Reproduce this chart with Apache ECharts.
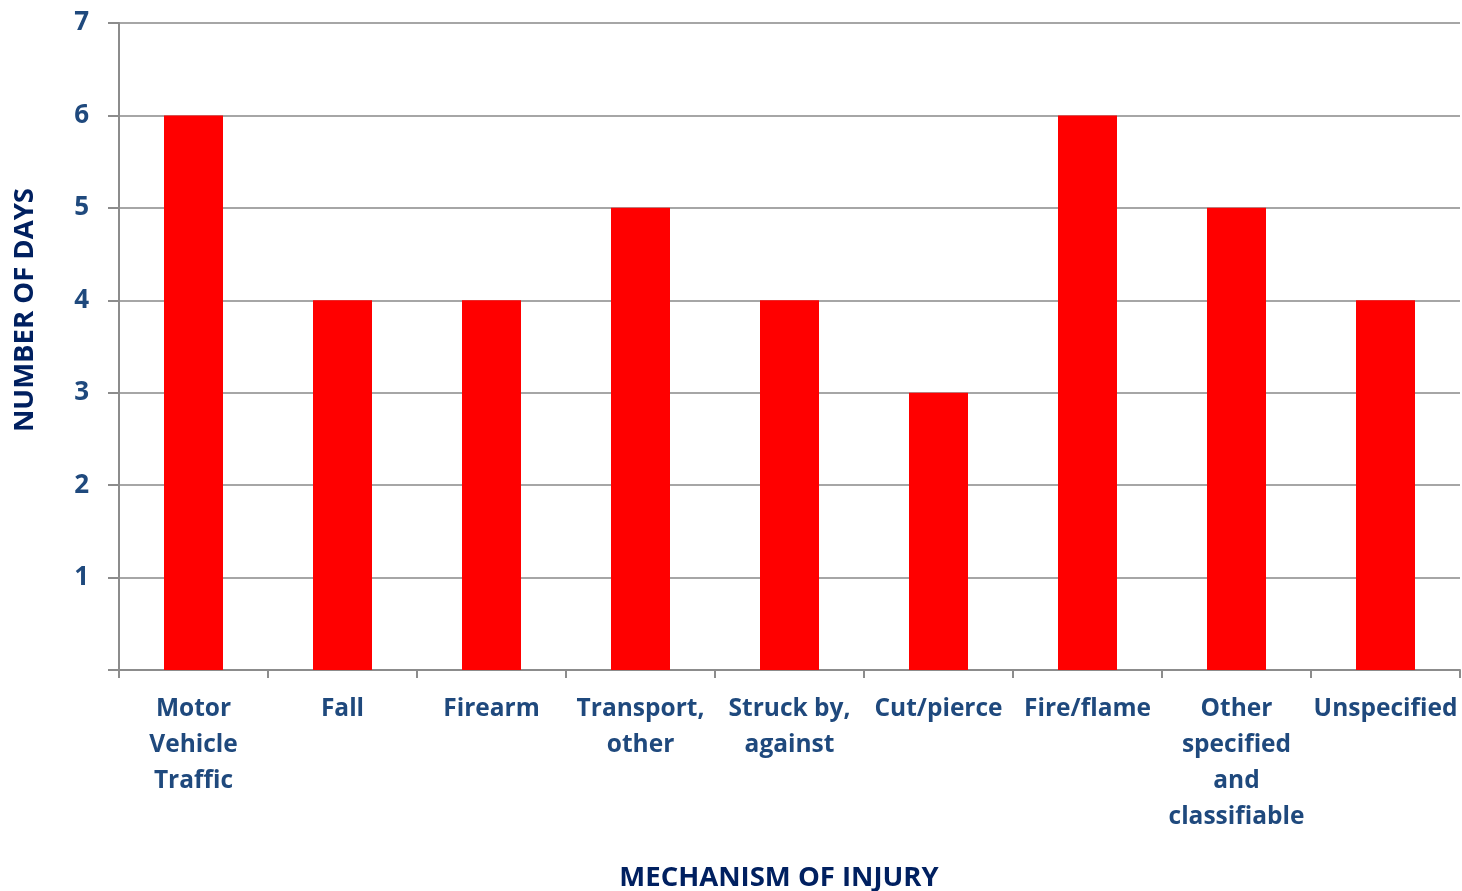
<!DOCTYPE html>
<html>
<head>
<meta charset="utf-8">
<script src="https://cdn.jsdelivr.net/npm/echarts@6/dist/echarts.min.js"></script>
<style>
  html, body { margin: 0; padding: 0; background: #ffffff; }
  #chart { width: 1462px; height: 891px; }
</style>
</head>
<body>
<div id="chart"></div>
<script>
// Injury mechanisms and number of days for each
const categories = [
  'Motor\nVehicle\nTraffic',
  'Fall',
  'Firearm',
  'Transport,\nother',
  'Struck by,\nagainst',
  'Cut/pierce',
  'Fire/flame',
  'Other\nspecified\nand\nclassifiable',
  'Unspecified'
];
const days = [6, 4, 4, 5, 4, 3, 6, 5, 4];
const yTicks = [0, 1, 2, 3, 4, 5, 6, 7];
const yTitle = 'NUMBER OF DAYS';
const xTitle = 'MECHANISM OF INJURY';

const labelFont = '"Open Sans", sans-serif';
const labelColor = '#1F497D';
const titleColor = '#002060';
const lineColor = '#8C8C8C';

const chart = echarts.init(document.getElementById('chart'));
chart.setOption({
  animation: false,
  grid: { left: 119, right: 2, top: 23, bottom: 221, containLabel: false },
  xAxis: {
    type: 'category',
    data: categories,
    boundaryGap: true,
    axisLine: { lineStyle: { color: lineColor, width: 2 } },
    axisTick: { show: true, length: 8, lineStyle: { color: lineColor, width: 2 } },
    axisLabel: {
      interval: 0,
      margin: 21,
      fontFamily: labelFont,
      fontWeight: 'bold',
      fontSize: 24.5,
      lineHeight: 36,
      color: labelColor,
      align: 'center'
    }
  },
  yAxis: {
    type: 'value',
    min: yTicks[0],
    max: yTicks[yTicks.length - 1],
    interval: 1,
    axisLine: { show: true, lineStyle: { color: lineColor, width: 2 } },
    axisTick: { show: true, length: 11, lineStyle: { color: lineColor, width: 2 } },
    splitLine: { show: true, lineStyle: { color: '#A6A6A6', width: 2 } },
    axisLabel: {
      margin: 30,
      fontFamily: labelFont,
      fontWeight: 'bold',
      fontSize: 26,
      color: labelColor,
      formatter: v => (v === 0 ? '' : String(v))
    }
  },
  series: [{
    type: 'bar',
    data: days,
    barWidth: 59,
    itemStyle: { color: '#FF0000' }
  }],
  graphic: [
    {
      type: 'text',
      x: 25,
      y: 310,
      rotation: Math.PI / 2,
      style: {
        text: yTitle,
        fontFamily: labelFont,
        fontWeight: 'bold',
        fontSize: 27.5,
        fill: titleColor,
        align: 'center',
        verticalAlign: 'middle'
      }
    },
    {
      type: 'text',
      x: 779,
      y: 878,
      style: {
        text: xTitle,
        fontFamily: labelFont,
        fontWeight: 'bold',
        fontSize: 27.5,
        fill: titleColor,
        align: 'center',
        verticalAlign: 'middle'
      }
    }
  ]
});
</script>
</body>
</html>
